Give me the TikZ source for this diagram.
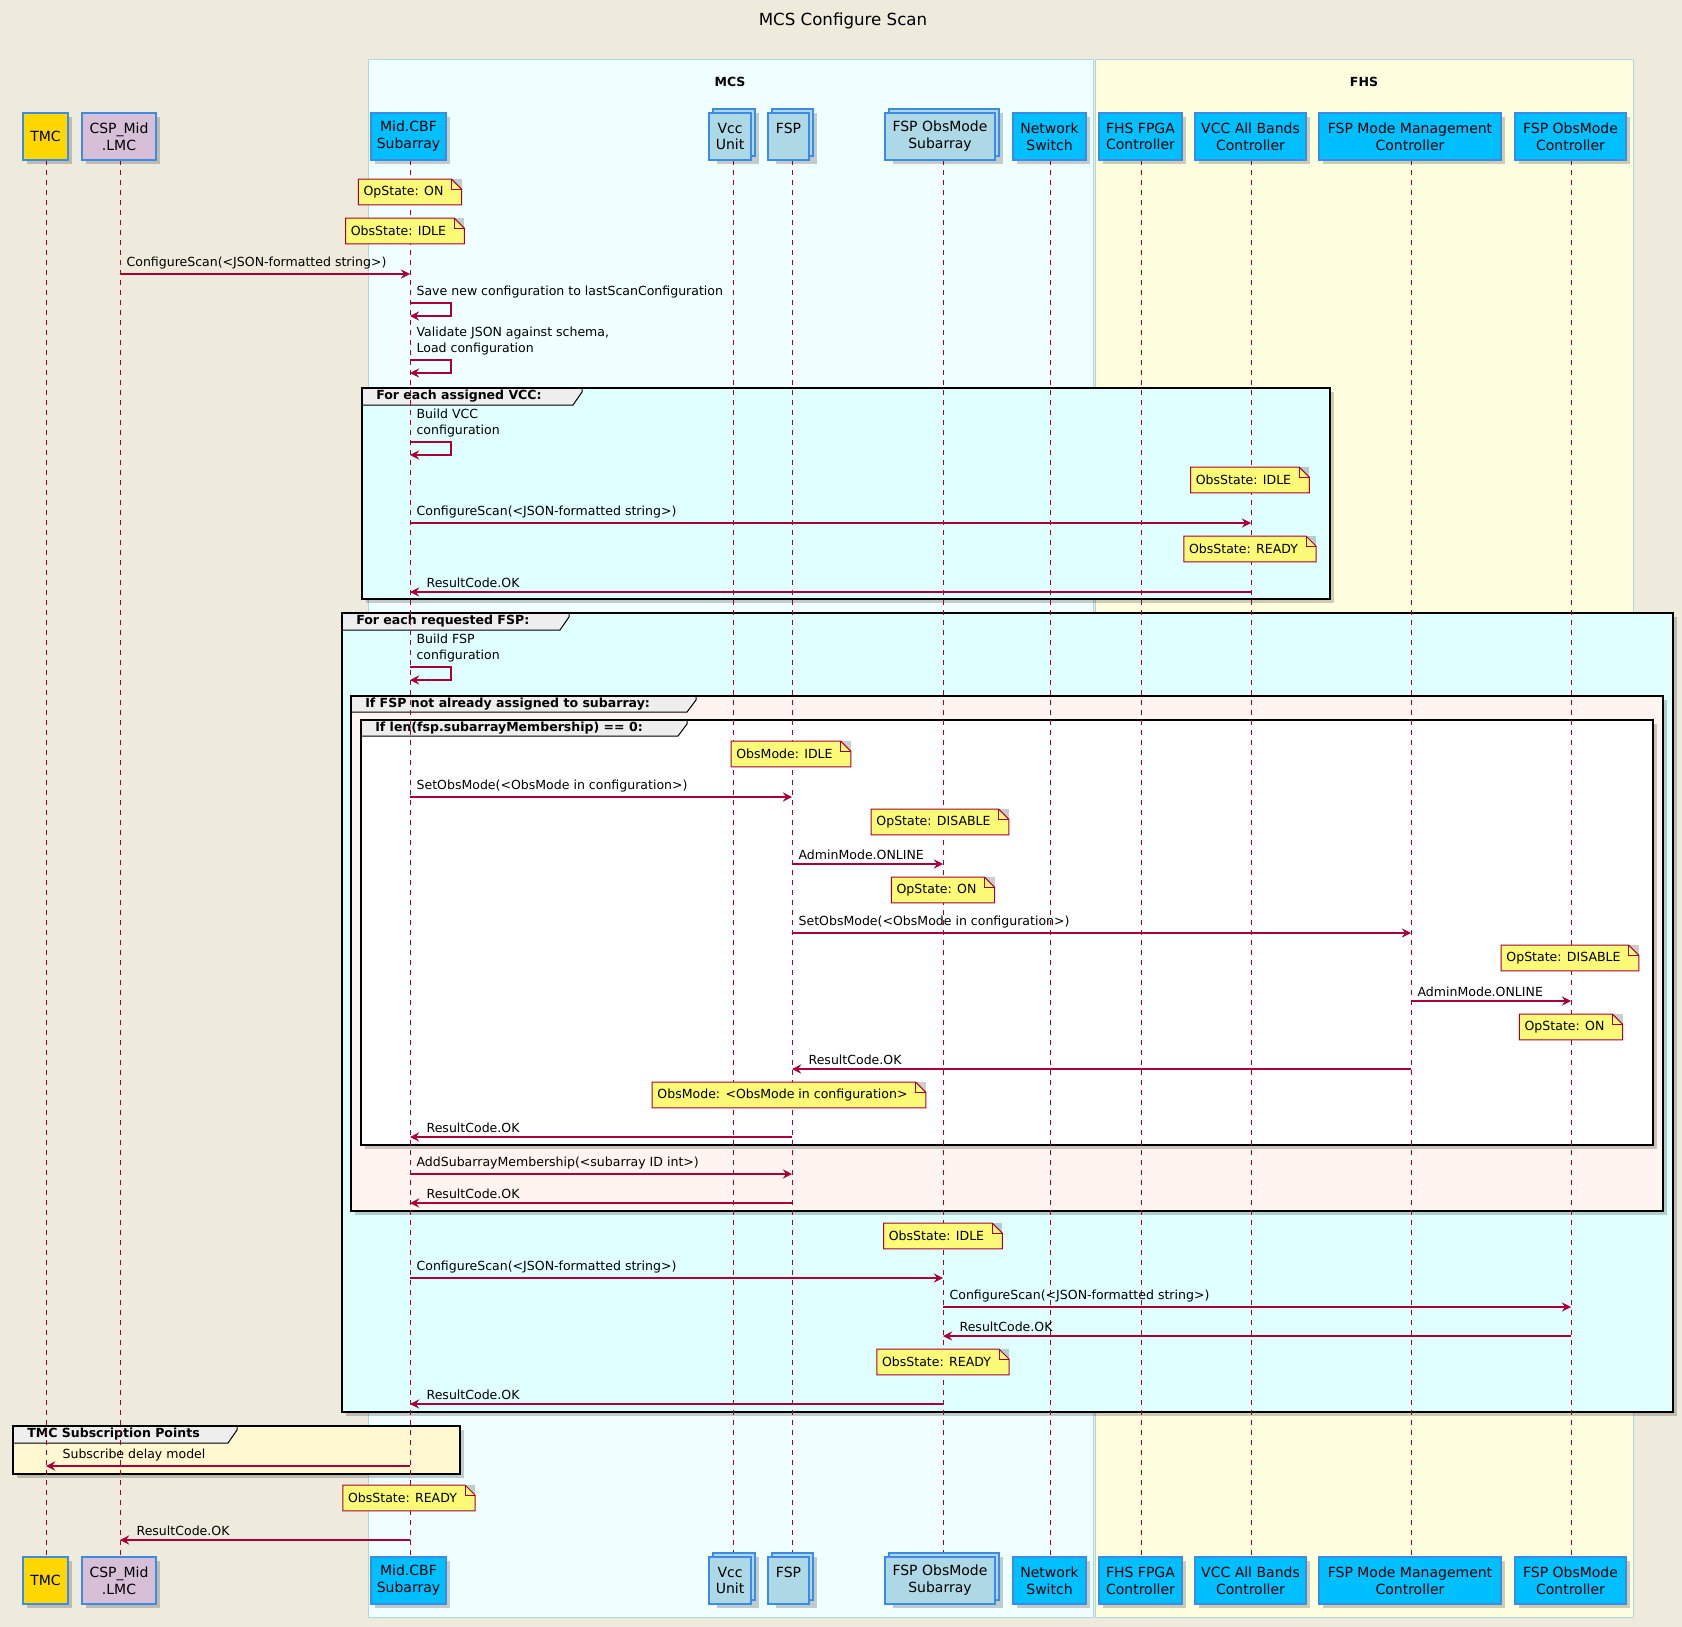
\documentclass[tikz,border=0pt]{standalone}
\usepackage{fontspec}
\setmainfont{DejaVu Sans}
\usetikzlibrary{arrows.meta}
\definecolor{bg}{HTML}{EEEBDC}
\definecolor{mcsfill}{HTML}{F0FFFF}
\definecolor{fhsfill}{HTML}{FFFFE0}
\definecolor{boxline}{HTML}{ADD8E6}
\definecolor{cyanfill}{HTML}{E0FFFF}
\definecolor{shellfill}{HTML}{FFF4EF}
\definecolor{chiffon}{HTML}{FFF8D0}
\definecolor{tabgray}{HTML}{EEEEEE}
\definecolor{notefill}{HTML}{FBFB77}
\definecolor{red1}{HTML}{A80036}
\definecolor{pborder}{HTML}{3C8CE6}
\definecolor{gold1}{HTML}{FFD700}
\definecolor{thistle1}{HTML}{D8BFD8}
\definecolor{dsky}{HTML}{00BFFF}
\definecolor{lblue}{HTML}{ADD8E6}
\tikzset{
  shadow/.style={fill=black,opacity=0.2,draw=none},
  pp/.style={draw=pborder,line width=1.1pt},
  ptext/.style={align=center,font=\fontsize{10.5}{12.6}\selectfont,inner sep=0pt},
  life/.style={draw=red1,line width=0.75pt,dash pattern=on 3.75pt off 3.75pt},
  msg/.style={draw=red1,line width=0.9pt,-{Stealth[length=7pt,width=7pt,inset=2.6pt]}},
  mtext/.style={font=\fontsize{9.4}{12}\selectfont,inner sep=1pt,align=left},
  ntext/.style={font=\fontsize{9.4}{12}\selectfont,inner xsep=3.75pt,inner ysep=0pt,minimum height=18.75pt},
  gtext/.style={font=\bfseries\fontsize{9.4}{12}\selectfont,inner sep=0pt},
}
\newcounter{mc}
\newcommand\pbox[7]{%
  \ifnum#7=1
    \fill[shadow] ({#2+8},{#4}) rectangle ({#3+8},{#4+51});
    \filldraw[pp,fill=#6] ({#2+4},{#4-4}) rectangle ({#3+4},{#4+43});
  \else
    \fill[shadow] ({#2+4},{#4+4}) rectangle ({#3+4},{#4+51});
  \fi
  \filldraw[pp,fill=#6] (#2,#4) rectangle (#3,{#4+47});
  \node[ptext] (#1) at ({(#2+#3)/2},{#4+23.5}) {#5};}
\newcommand\ppt[7]{% name x1 x2 lx text fill stacked
  \coordinate (#1-t) at (#4,160);
  \coordinate (#1-b) at (#4,1557);
  \draw[life] (#1-t) -- (#1-b);
  \pbox{#1top}{#2}{#3}{113}{#5}{#6}{#7}
  \pbox{#1bot}{#2}{#3}{1557}{#5}{#6}{#7}}
\newcommand\note[3]{%
  \node[ntext,text opacity=0] (nt) at ({#1-6.5},#2) {#3};
  \fill[shadow,shift={(2.5pt,-2.5pt)}] (nt.south west) -- (nt.north west) -- ([xshift=9.75pt]nt.north east) -- ([xshift=9.75pt]nt.south east) -- cycle;
  \filldraw[fill=notefill,draw=red1,line width=0.75pt] (nt.south west) -- (nt.north west) -- ([xshift=2.25pt]nt.north east) -- ([xshift=9.75pt,yshift=-7.5pt]nt.north east) -- ([xshift=9.75pt]nt.south east) -- cycle;
  \draw[draw=red1,line width=0.75pt] ([xshift=2.25pt]nt.north east) |- ([xshift=9.75pt,yshift=-7.5pt]nt.north east);
  \node[ntext] at (nt.center) {#3};}
\newcommand\msgR[4]{\stepcounter{mc}%
  \coordinate (ma\themc) at (#1,#3); \coordinate (mb\themc) at (#2,#3);
  \draw[msg] (ma\themc) -- (mb\themc);
  \node[mtext,anchor=south west] at ({#1+5},{#3-3}) {#4};}
\newcommand\msgL[4]{\stepcounter{mc}%
  \coordinate (ma\themc) at (#1,#3); \coordinate (mb\themc) at (#2,#3);
  \draw[msg] (ma\themc) -- (mb\themc);
  \node[mtext,anchor=south west] at ({#2+15},{#3-3}) {#4};}
\newcommand\selfm[3]{\stepcounter{mc}%
  \coordinate (ma\themc) at (#1,#2); \coordinate (mb\themc) at (#1,{#2+13});
  \draw[msg] (ma\themc) -- ++(41,0) -- ++(0,13) -- (mb\themc);
  \node[mtext,anchor=south west] at ({#1+5},{#2-3}) {#3};}
\newcommand\grp[8]{%
  \fill[shadow] ({#1+4},{#2+4}) rectangle ({#3+4},{#4+4});
  \fill[fill=#8] (#1,#2) rectangle (#3,#4);
  \filldraw[fill=tabgray,draw=black,line width=0.75pt] (#1,#2) -- (#5,#2) -- (#5,{#2+4}) -- ({#5-9},#6) -- (#1,#6) -- cycle;
  \draw[black,line width=1.9pt] (#1,#2) rectangle (#3,#4);
  \node[gtext,anchor=west] at ({#1+14},{(#2+#6)/2}) {#7};}
\begin{document}
\begin{tikzpicture}[x=0.75pt,y=-0.75pt]
\fill[bg] (0,0) rectangle (1682,1627);
\useasboundingbox (0,0) rectangle (1682,1627);
\node[font=\fontsize{12.5}{14}\selectfont] (title) at (843,21) {MCS Configure Scan};
% boxes
\filldraw[fill=mcsfill,draw=boxline,line width=0.75pt] (368,60) rectangle (1093,1617);
\filldraw[fill=fhsfill,draw=boxline,line width=0.75pt] (1095,60) rectangle (1633,1617);
\node[gtext] (mcs) at (730,82) {MCS};
\node[gtext] (fhs) at (1364,82) {FHS};
% groups
\grp{362}{388}{1330}{599}{582}{405}{For each assigned VCC:}{cyanfill}
\grp{342}{613}{1673}{1412}{569}{630}{For each requested FSP:}{cyanfill}
\grp{351}{696}{1663}{1211}{696}{712}{If FSP not already assigned to subarray:}{shellfill}
\grp{361}{720}{1653}{1145}{687}{736}{If len(fsp.subarrayMembership) == 0:}{white}
\grp{13}{1426}{460}{1474}{237}{1443}{TMC Subscription Points}{chiffon}
% participants
\ppt{tmc}{23}{68}{46}{TMC}{gold1}{0}
\ppt{csp}{82}{156}{120}{CSP\_Mid\\.LMC}{thistle1}{0}
\ppt{mid}{371}{446}{410}{Mid.CBF\\Subarray}{dsky}{0}
\ppt{vcc}{709}{751}{733}{Vcc\\Unit}{lblue}{1}
\ppt{fsp}{768}{809}{792}{FSP\\\mbox{}}{lblue}{1}
\ppt{fom}{885}{995}{943}{FSP ObsMode\\Subarray}{lblue}{1}
\ppt{net}{1013}{1086}{1050}{Network\\Switch}{dsky}{0}
\ppt{fpga}{1099}{1182}{1141}{FHS FPGA\\Controller}{dsky}{0}
\ppt{vab}{1195}{1306}{1251}{VCC All Bands\\Controller}{dsky}{0}
\ppt{fmm}{1319}{1501}{1411}{FSP Mode Management\\Controller}{dsky}{0}
\ppt{foc}{1515}{1626}{1571}{FSP ObsMode\\Controller}{dsky}{0}
% sequence
\note{410}{192}{OpState: ON}
\note{405}{231}{ObsState: IDLE}
\msgR{120}{410}{274}{ConfigureScan(<JSON-formatted string>)}
\selfm{410}{303}{Save new configuration to lastScanConfiguration}
\selfm{410}{360}{Validate JSON against schema,\\Load configuration}
\selfm{410}{442}{Build VCC\\configuration}
\note{1250}{480}{ObsState: IDLE}
\msgR{410}{1251}{523}{ConfigureScan(<JSON-formatted string>)}
\note{1250}{549}{ObsState: READY}
\msgL{1251}{410}{592}{ResultCode.OK}
\selfm{410}{667}{Build FSP\\configuration}
\note{791}{754}{ObsMode: IDLE}
\msgR{410}{792}{797}{SetObsMode(<ObsMode in configuration>)}
\note{940}{822}{OpState: DISABLE}
\msgR{792}{943}{864}{AdminMode.ONLINE}
\note{943}{890}{OpState: ON}
\msgR{792}{1411}{933}{SetObsMode(<ObsMode in configuration>)}
\note{1570}{958}{OpState: DISABLE}
\msgR{1411}{1571}{1001}{AdminMode.ONLINE}
\note{1571}{1027}{OpState: ON}
\msgL{1411}{792}{1069}{ResultCode.OK}
\note{789}{1095}{ObsMode: <ObsMode in configuration>}
\msgL{792}{410}{1137}{ResultCode.OK}
\msgR{410}{792}{1174}{AddSubarrayMembership(<subarray ID int>)}
\msgL{792}{410}{1203}{ResultCode.OK}
\note{943}{1236}{ObsState: IDLE}
\msgR{410}{943}{1278}{ConfigureScan(<JSON-formatted string>)}
\msgR{943}{1571}{1307}{ConfigureScan(<JSON-formatted string>)}
\msgL{1571}{943}{1336}{ResultCode.OK}
\note{943}{1362}{ObsState: READY}
\msgL{943}{410}{1404}{ResultCode.OK}
\msgL{410}{46}{1466}{Subscribe delay model}
\note{409}{1498}{ObsState: READY}
\msgL{410}{120}{1540}{ResultCode.OK}
\end{tikzpicture}
\end{document}
